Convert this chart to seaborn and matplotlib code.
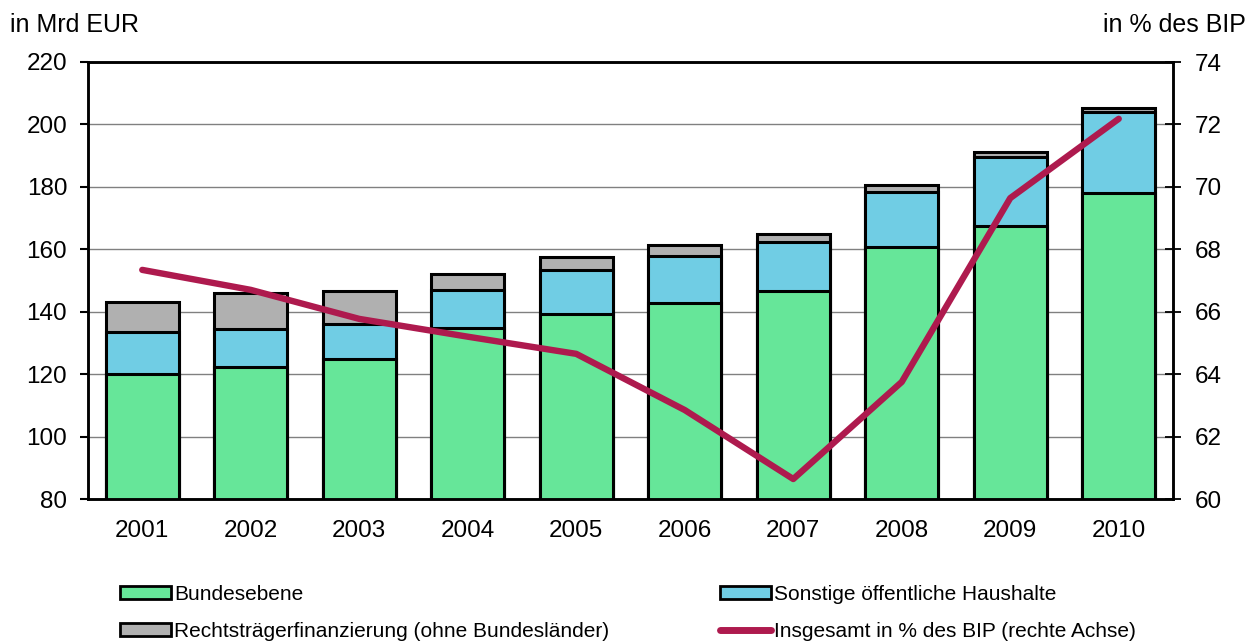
import matplotlib
matplotlib.use("Agg")
import matplotlib.pyplot as plt
import seaborn as sns
import pandas as pd
import numpy as np
from matplotlib.patches import Patch
from matplotlib.lines import Line2D

years = ["2001", "2002", "2003", "2004", "2005", "2006", "2007", "2008", "2009", "2010"]
bund = [120.0, 122.3, 124.9, 134.8, 139.3, 142.8, 146.6, 160.7, 167.5, 178.0]
sonstige = [13.5, 12.2, 11.2, 12.2, 14.1, 15.1, 15.7, 17.7, 22.1, 26.0]
rechtstraeger = [9.6, 11.5, 10.5, 5.1, 4.1, 3.5, 2.6, 2.2, 1.6, 1.3]
bip_pct = [67.34, 66.7, 65.77, 65.2, 64.65, 62.85, 60.64, 63.75, 69.64, 72.18]

labels = ["Bundesebene", "Sonstige öffentliche Haushalte",
          "Rechtsträgerfinanzierung (ohne Bundesländer)", "Insgesamt in % des BIP (rechte Achse)"]
c_green = "#66E699"
c_blue = "#70CDE4"
c_grey = "#B0B0B0"
c_line = "#AE1A4E"

sns.set_theme(style="white")
plt.rcParams['font.family'] = ['Liberation Sans', 'DejaVu Sans']
plt.rcParams['text.color'] = 'black'

df = pd.DataFrame({"Jahr": years, "bund": bund, "sonst": sonstige, "recht": rechtstraeger, "bip": bip_pct})
df["lvl2"] = df["bund"] + df["sonst"]
df["lvl3"] = df["lvl2"] + df["recht"]

fig = plt.figure(figsize=(12.56, 6.41), dpi=100)
ax = fig.add_axes([88/1256, 1 - 499/641, 1085/1256, 437/641])

w = 0.67
for col, color in [("lvl3", c_grey), ("lvl2", c_blue), ("bund", c_green)]:
    sns.barplot(data=df, x="Jahr", y=col, color=color, width=w, ax=ax,
                edgecolor="black", linewidth=2.2, saturation=1)

fs = 17.5
ax.set_ylim(80, 220)
ax.set_xlim(-0.5, 9.5)
ax.set_yticks(np.arange(80, 221, 20))
ax.set_ylabel("")
ax.set_xlabel("")
ax.yaxis.grid(True, color="#808080", linewidth=1)
ax.set_axisbelow(True)
for s in ax.spines.values():
    s.set_color("black")
    s.set_linewidth(1.8)
ax.tick_params(axis="y", direction="out", length=6, width=1.5, labelsize=fs, labelcolor="black", color="black", pad=9, left=True)
ax.tick_params(axis="x", length=0, labelsize=fs, pad=15, labelcolor="black")

ax2 = ax.twinx()
sns.lineplot(x=np.arange(len(years)), y=bip_pct, ax=ax2, color=c_line, linewidth=4.6,
             solid_capstyle="round", solid_joinstyle="round")
ax2.set_ylim(60, 74)
ax2.set_yticks(np.arange(60, 75, 2))
ax2.tick_params(axis="y", direction="inout", length=11, width=1.3, labelsize=fs, labelcolor="black", color="black", pad=10, right=True)
for s in ax2.spines.values():
    s.set_color("black")
    s.set_linewidth(1.8)
ax2.set_xlim(-0.5, 9.5)

fig.text(10/1256, 1 - 25/641, "in Mrd EUR", fontsize=18, va="center", ha="left", color="black")
fig.text(1246/1256, 1 - 25/641, "in % des BIP", fontsize=18, va="center", ha="right", color="black")

handles = [Patch(facecolor=c_green, edgecolor="black", linewidth=2),
           Patch(facecolor=c_blue, edgecolor="black", linewidth=2),
           Patch(facecolor=c_grey, edgecolor="black", linewidth=2),
           Line2D([0], [0], color=c_line, linewidth=5, solid_capstyle="round")]
lfs = 15
common = dict(loc="upper left", frameon=False, fontsize=lfs, handlelength=2.45, handleheight=0.58,
              handletextpad=0.15, labelspacing=0.85, borderaxespad=0, borderpad=0, labelcolor="black")
leg1 = fig.legend([handles[0], handles[2]], [labels[0], labels[2]],
                  bbox_to_anchor=(120/1256, 1 - 585/641), **common)
leg2 = fig.legend([handles[1], handles[3]], [labels[1], labels[3]],
                  bbox_to_anchor=(720/1256, 1 - 585/641), **common)

fig.savefig("out.png", dpi=100)
